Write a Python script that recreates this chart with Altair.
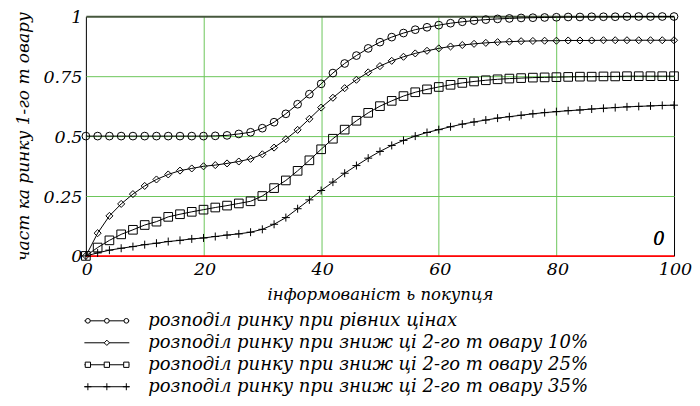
import altair as alt
import pandas as pd

# ---------------- data ----------------
x_vals = list(range(0, 101, 2))

equal_prices = [0.5, 0.5, 0.5, 0.5, 0.5, 0.5, 0.5, 0.5, 0.5, 0.5, 0.5,
                0.501, 0.503, 0.509, 0.516, 0.533, 0.558, 0.593, 0.633, 0.675, 0.718,
                0.763, 0.803, 0.836, 0.866, 0.892, 0.913, 0.93, 0.944, 0.954, 0.963,
                0.971, 0.977, 0.982, 0.986, 0.989, 0.991, 0.993, 0.994, 0.995, 0.996,
                0.997, 0.997, 0.998, 0.998, 0.998, 0.999, 0.999, 0.999, 0.999, 0.999]

cut_10 = [0.0, 0.095, 0.167, 0.217, 0.258, 0.292, 0.319, 0.34, 0.356, 0.365, 0.374,
          0.379, 0.386, 0.394, 0.405, 0.424, 0.452, 0.487, 0.526, 0.572, 0.619,
          0.66, 0.7, 0.735, 0.766, 0.792, 0.814, 0.831, 0.845, 0.856, 0.866,
          0.874, 0.88, 0.885, 0.889, 0.892, 0.894, 0.896, 0.897, 0.898, 0.898,
          0.899, 0.899, 0.899, 0.9, 0.9, 0.9, 0.9, 0.9, 0.9, 0.9]

cut_25 = [0.0, 0.035, 0.065, 0.09, 0.109, 0.129, 0.143, 0.163, 0.174, 0.184, 0.193,
          0.202, 0.21, 0.219, 0.228, 0.25, 0.283, 0.315, 0.355, 0.399, 0.445,
          0.489, 0.527, 0.564, 0.597, 0.625, 0.647, 0.667, 0.683, 0.695, 0.705,
          0.714, 0.722, 0.728, 0.733, 0.737, 0.74, 0.742, 0.744, 0.745, 0.746,
          0.747, 0.748, 0.748, 0.749, 0.749, 0.75, 0.75, 0.75, 0.75, 0.75]

cut_35 = [0.0, 0.0125, 0.024, 0.032, 0.039, 0.047, 0.053, 0.06, 0.065, 0.071, 0.075,
          0.081, 0.087, 0.092, 0.099, 0.111, 0.132, 0.16, 0.197, 0.234, 0.273,
          0.308, 0.345, 0.377, 0.408, 0.436, 0.461, 0.482, 0.5, 0.515, 0.527,
          0.539, 0.55, 0.559, 0.567, 0.575, 0.581, 0.587, 0.593, 0.598, 0.602,
          0.606, 0.609, 0.613, 0.616, 0.619, 0.622, 0.624, 0.626, 0.628, 0.629]

zero_x = [0, 100]
zero_y = [0, 0]

x_ticks = [0, 20, 40, 60, 80, 100]
y_ticks = [0, 0.25, 0.5, 0.75, 1]

series_keys = ["eq", "c10", "c25", "c35"]
legend_labels = [
    "розподіл ринку при рівних цінах",
    "розподіл ринку при зниж ці 2-го т овару  10%",
    "розподіл ринку при зниж ці 2-го т овару  25%",
    "розподіл ринку при зниж ці 2-го т овару  35%",
]
x_title = "інформованіст ь покупця"
y_title = "част ка ринку 1-го т овару"
marker_label = "0"

# ---------------- styles ----------------
FONT = "DejaVu Serif"
GRID = "#6cc65a"
CROSS = "M-1,0L1,0M0,-1L0,1"
shapes = {"eq": "circle", "c10": "diamond", "c25": "square", "c35": CROSS}
sizes = {"eq": 60, "c10": 50, "c25": 75, "c35": 64}
leg_sizes = {"eq": 22, "c10": 28, "c25": 28, "c35": 49}

rows = []
for key, vals in zip(series_keys, [equal_prices, cut_10, cut_25, cut_35]):
    for xv, yv in zip(x_vals, vals):
        rows.append({"x": xv, "y": yv, "s": key})
df = pd.DataFrame(rows)
zero_df = pd.DataFrame({"x": zero_x, "y": zero_y})

xscale = alt.Scale(domain=[0, 100], nice=False, zero=False)
yscale = alt.Scale(domain=[0, 1], nice=False)

x_axis = alt.Axis(
    values=x_ticks, title=x_title, grid=True, domain=False, ticks=False,
    labelFlush=False, labelFont=FONT, labelFontSize=17.5, labelFontStyle="italic",
    labelPadding=5, labelOffset=1, labelColor="black",
    titleFont=FONT, titleFontSize=16.5, titleFontStyle="italic", titleFontWeight="normal",
    titlePadding=8, titleColor="black",
    gridColor={"condition": {"test": "datum.value === 0 || datum.value === 100",
                             "value": "black"}, "value": GRID},
)
y_axis = alt.Axis(
    values=y_ticks, format=".2~f", title=y_title, grid=True, domain=False, ticks=False,
    labelFont=FONT, labelFontSize=17.5, labelFontStyle="italic", labelPadding=4,
    labelColor="black", labelFlush=False, labelOffset=1,
    titleFont=FONT, titleFontSize=17, titleFontStyle="italic", titleFontWeight="normal",
    titlePadding=11, titleColor="black",
    gridColor={"condition": [{"test": "datum.value === 1", "value": "#46573d"},
                             {"test": "datum.value === 0", "value": "#ff0000"}],
               "value": GRID},
    gridWidth={"condition": {"test": "datum.value === 1", "value": 2}, "value": 1},
)

zero_line = alt.Chart(zero_df).mark_line(color="#ff0000", strokeWidth=1.5).encode(
    x=alt.X("x:Q", scale=xscale, axis=x_axis),
    y=alt.Y("y:Q", scale=yscale, axis=y_axis),
)

lines = alt.Chart(df).mark_line(color="black", strokeWidth=1).encode(
    x=alt.X("x:Q", scale=xscale),
    y=alt.Y("y:Q", scale=yscale),
    detail="s:N",
)

point_layers = []
for key in series_keys:
    point_layers.append(
        alt.Chart(df).transform_filter(alt.datum.s == key).mark_point(
            shape=shapes[key], size=sizes[key], filled=False, color="black",
            strokeWidth=1, opacity=1,
        ).encode(x=alt.X("x:Q", scale=xscale), y=alt.Y("y:Q", scale=yscale))
    )

label0 = alt.Chart(zero_df).mark_text(
    text=marker_label, font=FONT, fontSize=18, fontStyle="italic", fontWeight="normal",
    align="right", baseline="alphabetic", color="black",
).encode(x=alt.datum(98.4), y=alt.datum(0.045))

top = alt.layer(zero_line, lines, *point_layers, label0).properties(
    width=589, height=240
)

# ---------------- legend (below plot) ----------------
leg_line_x = [-1.5, 43.5]
leg_mark_x = {"eq": [2, 21, 40.5], "c10": [21], "c25": [2, 21, 40.5], "c35": [2, 21, 40.5]}
leg_text_x = 62.5

lrows, lline, ltext = [], [], []
for i, key in enumerate(series_keys):
    for mx in leg_mark_x[key]:
        lrows.append({"x": mx, "row": i, "s": key})
    for lx in leg_line_x:
        lline.append({"x": lx, "row": i, "s": key})
    ltext.append({"x": leg_text_x, "row": i, "label": legend_labels[i]})
lm_df = pd.DataFrame(lrows)
ll_df = pd.DataFrame(lline)
lt_df = pd.DataFrame(ltext)

lx_scale = alt.Scale(domain=[0, 589], nice=False, zero=False)
ly_scale = alt.Scale(domain=[0, 1, 2, 3], padding=0.5)

leg_lines = alt.Chart(ll_df).mark_line(color="black", strokeWidth=1).encode(
    x=alt.X("x:Q", scale=lx_scale, axis=None),
    y=alt.Y("row:O", scale=ly_scale, axis=None),
    detail="s:N",
)
leg_marks = []
for key in series_keys:
    leg_marks.append(
        alt.Chart(lm_df).transform_filter(alt.datum.s == key).mark_point(
            shape=shapes[key], size=leg_sizes[key], filled=True, fill="white",
            stroke="black", strokeWidth=1, opacity=1,
        ).encode(
            x=alt.X("x:Q", scale=lx_scale, axis=None),
            y=alt.Y("row:O", scale=ly_scale, axis=None),
        )
    )
leg_text = alt.Chart(lt_df).mark_text(
    font=FONT, fontSize=18, fontStyle="italic", align="left", baseline="middle",
    color="black",
).encode(
    x=alt.X("x:Q", scale=lx_scale, axis=None),
    y=alt.Y("row:O", scale=ly_scale, axis=None),
    text="label:N",
)
legend = alt.layer(leg_lines, *leg_marks, leg_text).properties(width=589, height=88)

chart = alt.vconcat(top, legend, spacing=7).configure(
    font=FONT
).configure_view(stroke=None).properties(padding={"left": 6, "top": 0, "right": 0, "bottom": 0})

chart.save("out.html", embed_options={"renderer": "svg", "actions": False})
